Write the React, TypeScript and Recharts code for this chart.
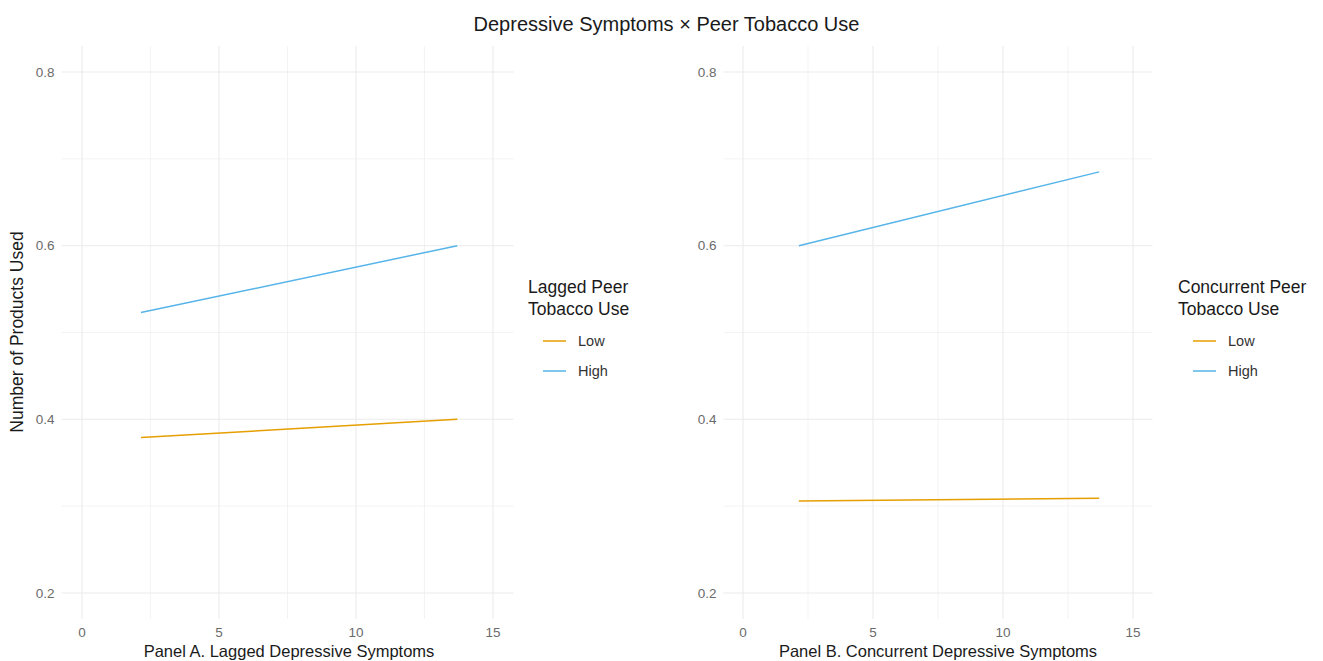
import React from "react";
import { LineChart, Line, XAxis, YAxis, CartesianGrid } from "recharts";

const xTicks = [0, 5, 10, 15];
const xMinor = [2.5, 7.5, 12.5];
const yTicks = [0.2, 0.4, 0.6, 0.8];
const yMinor = [0.3, 0.5, 0.7];
const xDomain = [-0.75, 15.75];
const yDomain = [0.17, 0.83];

const seriesNames = ["Low", "High"];
const seriesColors = ["#E69F00", "#56B4E9"];

const laggedLow = [
  { x: 2.15, y: 0.379 },
  { x: 13.7, y: 0.4 },
];
const laggedHigh = [
  { x: 2.15, y: 0.523 },
  { x: 13.7, y: 0.6 },
];
const concurrentLow = [
  { x: 2.15, y: 0.306 },
  { x: 13.7, y: 0.309 },
];
const concurrentHigh = [
  { x: 2.15, y: 0.6 },
  { x: 13.7, y: 0.685 },
];

const FONT = "'Liberation Sans', Arial, sans-serif";

type PanelProps = {
  left: number;
  width: number;
  yAxisWidth: number;
  rightMargin: number;
  low: { x: number; y: number }[];
  high: { x: number; y: number }[];
};

function Panel({ left, width, yAxisWidth, rightMargin, low, high }: PanelProps) {
  return (
    <div style={{ position: "absolute", left, top: 0 }}>
      <LineChart
        width={width}
        height={661}
        margin={{ top: 46, right: rightMargin, bottom: 0, left: 0 }}
      >
        <CartesianGrid
          stroke="#F0F0F0"
          strokeWidth={0.8}
          verticalValues={xMinor}
          horizontalValues={yMinor}
        />
        <CartesianGrid
          stroke="#EBEBEB"
          strokeWidth={1.1}
          verticalValues={xTicks}
          horizontalValues={yTicks}
        />
        <XAxis
          type="number"
          dataKey="x"
          domain={xDomain}
          ticks={xTicks}
          allowDataOverflow
          axisLine={false}
          tickLine={false}
          tickSize={0}
          tickMargin={8}
          height={42}
          tick={{ fill: "#6b6b6b", fontSize: 13.5, fontFamily: FONT }}
        />
        <YAxis
          type="number"
          dataKey="y"
          domain={yDomain}
          ticks={yTicks}
          allowDataOverflow
          axisLine={false}
          tickLine={false}
          tickSize={0}
          tickMargin={7}
          width={yAxisWidth}
          tickFormatter={(v: number) => v.toFixed(1)}
          tick={{ fill: "#6b6b6b", fontSize: 13.5, fontFamily: FONT }}
        />
        <Line
          data={low}
          dataKey="y"
          name={seriesNames[0]}
          stroke={seriesColors[0]}
          strokeWidth={1.5}
          dot={false}
          activeDot={false}
          isAnimationActive={false}
        />
        <Line
          data={high}
          dataKey="y"
          name={seriesNames[1]}
          stroke={seriesColors[1]}
          strokeWidth={1.5}
          dot={false}
          activeDot={false}
          isAnimationActive={false}
        />
      </LineChart>
    </div>
  );
}

function LegendBox({ left, title }: { left: number; title: string[] }) {
  return (
    <div style={{ position: "absolute", left, top: 276, fontFamily: FONT, color: "#1a1a1a" }}>
      {title.map((t, i) => (
        <div key={i} style={{ fontSize: 17.5, lineHeight: "22px", whiteSpace: "nowrap" }}>
          {t}
        </div>
      ))}
      <div style={{ height: 6 }} />
      {seriesNames.map((n, i) => (
        <div key={n} style={{ display: "flex", alignItems: "center", height: 30 }}>
          <svg width={40} height={30}>
            <line x1={15} x2={38} y1={15} y2={15} stroke={seriesColors[i]} strokeWidth={1.5} />
          </svg>
          <span style={{ fontSize: 14.5, marginLeft: 10, color: "#333" }}>{n}</span>
        </div>
      ))}
    </div>
  );
}

export default function App() {
  return (
    <div
      style={{
        position: "absolute",
        left: 0,
        top: 0,
        width: 1323,
        height: 661,
        background: "#fff",
        overflow: "hidden",
        fontFamily: FONT,
      }}
    >
      <div
        style={{
          position: "absolute",
          left: 0,
          width: 1333,
          top: 14,
          lineHeight: "20px",
          textAlign: "center",
          fontSize: 20,
          color: "#1a1a1a",
        }}
      >
        Depressive Symptoms × Peer Tobacco Use
      </div>
      <Panel left={0} width={520} yAxisWidth={61.5} rightMargin={6.5} low={laggedLow} high={laggedHigh} />
      <Panel left={660} width={500} yAxisWidth={63.5} rightMargin={7.5} low={concurrentLow} high={concurrentHigh} />
      <div
        style={{
          position: "absolute",
          left: 17,
          top: 332,
          transform: "translate(-50%, -50%) rotate(-90deg)",
          fontSize: 17.5,
          whiteSpace: "nowrap",
          color: "#1a1a1a",
        }}
      >
        Number of Products Used
      </div>
      <div
        style={{
          position: "absolute",
          left: 289,
          top: 643,
          lineHeight: "16.5px",
          transform: "translateX(-50%)",
          fontSize: 16.5,
          whiteSpace: "nowrap",
          color: "#1a1a1a",
        }}
      >
        Panel A. Lagged Depressive Symptoms
      </div>
      <div
        style={{
          position: "absolute",
          left: 938,
          top: 643,
          lineHeight: "16.5px",
          transform: "translateX(-50%)",
          fontSize: 16.5,
          whiteSpace: "nowrap",
          color: "#1a1a1a",
        }}
      >
        Panel B. Concurrent Depressive Symptoms
      </div>
      <LegendBox left={528} title={["Lagged Peer", "Tobacco Use"]} />
      <LegendBox left={1178} title={["Concurrent Peer", "Tobacco Use"]} />
    </div>
  );
}
